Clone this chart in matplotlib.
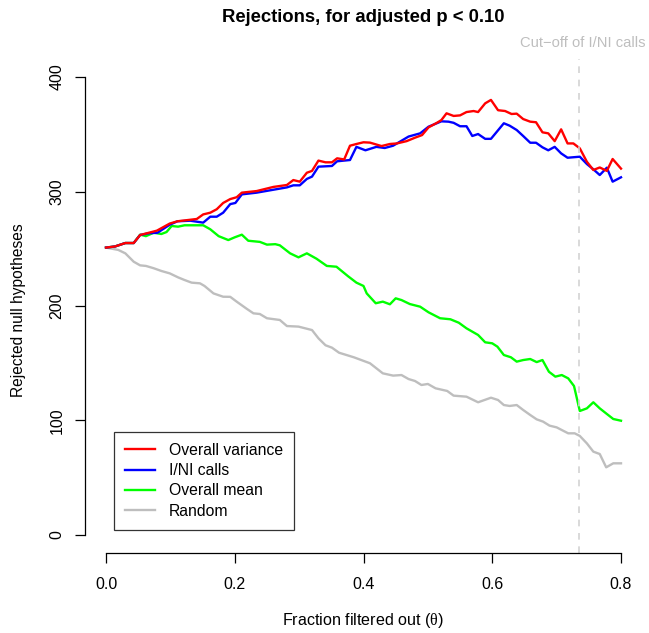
import matplotlib
matplotlib.use("Agg")
import matplotlib.pyplot as plt

plt.rcParams['font.family'] = ['Liberation Sans', 'DejaVu Sans']
plt.rcParams['mathtext.fontset'] = 'custom'
plt.rcParams['mathtext.rm'] = 'Liberation Serif'

title = "Rejections, for adjusted p < 0.10"
xlabel = "Fraction filtered out ($\\mathrm{\\theta}$)"
ylabel = "Rejected null hypotheses"
cutoff = 0.735
cutoff_label = "Cut\u2212off of I/NI calls"
labels = ["Overall variance", "I/NI calls", "Overall mean", "Random"]
colors = ["#FF0000", "#0000FF", "#00FF00", "#BEBEBE"]

var_x = [0, 0.014, 0.03, 0.043, 0.053, 0.079, 0.099, 0.111, 0.141, 0.151, 0.162, 0.172, 0.182, 0.193,
         0.203, 0.211, 0.234, 0.26, 0.281, 0.291, 0.301, 0.312, 0.32, 0.33, 0.341, 0.351, 0.359, 0.37,
         0.379, 0.389, 0.4, 0.41, 0.428, 0.441, 0.452, 0.467, 0.48, 0.491, 0.501, 0.514, 0.521, 0.529,
         0.54, 0.55, 0.56, 0.571, 0.578, 0.589, 0.598, 0.609, 0.62, 0.63, 0.638, 0.648, 0.659, 0.668,
         0.678, 0.687, 0.697, 0.707, 0.717, 0.726, 0.736, 0.747, 0.757, 0.767, 0.778, 0.787, 0.8]
var_y = [251, 252, 255, 255, 262, 265.8, 272, 274, 276, 280, 281.5, 284.5, 290, 293.4,
         295, 299, 300.4, 304, 305.7, 310, 308.6, 316.4, 318, 327, 325.5, 325.5, 329, 328,
         340, 341.5, 343, 342.7, 339.7, 341.5, 342, 344, 347, 349.3, 356, 360, 362.4, 368.3,
         366, 366.5, 369.4, 370.3, 369.4, 377, 380, 371, 370.3, 367.7, 368, 363.3, 361, 360.5,
         351.7, 350.8, 344, 354.3, 342, 342, 337.7, 326, 318.8, 321, 318, 328.4, 320]

ini_x = [0, 0.014, 0.03, 0.043, 0.053, 0.066, 0.08, 0.099, 0.111, 0.131, 0.151, 0.162, 0.172, 0.182,
         0.193, 0.201, 0.211, 0.234, 0.281, 0.291, 0.301, 0.312, 0.32, 0.33, 0.351, 0.359, 0.379,
         0.389, 0.403, 0.42, 0.433, 0.446, 0.47, 0.488, 0.501, 0.521, 0.532, 0.54, 0.55, 0.56, 0.569,
         0.578, 0.589, 0.598, 0.618, 0.627, 0.638, 0.648, 0.659, 0.668, 0.678, 0.687, 0.697, 0.707,
         0.717, 0.736, 0.747, 0.757, 0.767, 0.778, 0.787, 0.8]
ini_y = [251, 252, 255, 255, 262, 263.5, 264, 271, 274, 274.5, 272.8, 278, 278, 281.5,
         289, 290, 297.5, 299, 303.6, 305.4, 305.4, 311, 313, 321.7, 322.3, 326.4, 327.5,
         339, 336, 339, 338, 340, 348, 350.8, 356.6, 361.3, 361, 360, 357, 357, 348.5,
         350.2, 346, 346, 359.6, 357.5, 353.7, 348.5, 342.6, 342.6, 338.6, 336, 339, 333.3,
         329.5, 330.4, 324, 319.4, 314.4, 320.8, 308.6, 312.4]

mean_x = [0, 0.014, 0.03, 0.043, 0.053, 0.062, 0.074, 0.086, 0.094, 0.102, 0.112, 0.122, 0.151, 0.162,
          0.175, 0.19, 0.2, 0.211, 0.221, 0.239, 0.25, 0.263, 0.27, 0.286, 0.299, 0.312, 0.327, 0.343,
          0.358, 0.376, 0.389, 0.4, 0.405, 0.419, 0.43, 0.441, 0.45, 0.459, 0.472, 0.488, 0.501, 0.519,
          0.535, 0.548, 0.56, 0.578, 0.589, 0.6, 0.608, 0.618, 0.629, 0.638, 0.648, 0.659, 0.669, 0.678,
          0.688, 0.698, 0.708, 0.718, 0.727, 0.736, 0.747, 0.757, 0.767, 0.778, 0.788, 0.8]
mean_y = [251, 252, 255, 255, 262.3, 261, 264, 262.9, 264.6, 269.9, 269.3, 270.5, 270.5, 267,
          261, 257.6, 260, 262.3, 257, 256, 253.6, 254, 253, 246, 242.5, 246, 241.3, 235,
          234.3, 226, 220.4, 217.5, 211, 202.4, 203.8, 201.5, 206.7, 205.2, 201.7, 199.4, 194.5, 189.3,
          188.4, 185.4, 180.5, 174.7, 168.3, 167.4, 164.5, 157.2, 155.2, 151.4, 152.8, 153.7, 151, 152.8,
          142.6, 138.3, 139.7, 136.8, 130.1, 108.3, 110.6, 115.9, 110.6, 105.7, 101.3, 99.8]

rand_x = [0, 0.019, 0.03, 0.043, 0.053, 0.062, 0.074, 0.086, 0.099, 0.112, 0.122, 0.133, 0.146, 0.153,
          0.167, 0.182, 0.193, 0.203, 0.219, 0.229, 0.239, 0.25, 0.27, 0.281, 0.299, 0.32, 0.33, 0.341,
          0.351, 0.362, 0.385, 0.41, 0.43, 0.446, 0.459, 0.47, 0.48, 0.49, 0.5, 0.512, 0.53, 0.54, 0.56,
          0.578, 0.598, 0.609, 0.618, 0.627, 0.638, 0.648, 0.659, 0.669, 0.679, 0.689, 0.7, 0.71, 0.718,
          0.728, 0.736, 0.747, 0.757, 0.767, 0.777, 0.788, 0.8]
rand_y = [251, 249, 246, 238.7, 235.5, 235, 233, 230.6, 228.5, 225, 222.7, 220.4, 219.8, 217.5,
          211, 208.1, 208, 203.8, 197.4, 193.6, 193, 189.3, 187.8, 182.5, 182, 179, 171.8, 165.7,
          163.6, 159.2, 155.2, 150, 141.2, 139.2, 139.7, 136.2, 134.5, 131, 131.9, 128.1, 125.8, 121.7, 120.8,
          115.9, 119.9, 117.9, 113.5, 112.7, 113.5, 109.2, 104.8, 101, 99, 95.5, 94, 91.1, 88.8,
          88.8, 86.5, 80, 72.8, 70.7, 59.1, 62.6, 62.6]

xticks = [0.0, 0.2, 0.4, 0.6, 0.8]
yticks = [0, 100, 200, 300, 400]

W, H = 649, 633
fig = plt.figure(figsize=(W / 100, H / 100), dpi=100)
ax = fig.add_axes([85.4 / W, 1 - 553.3 / H, (641.6 - 85.4) / W, (553.3 - 58.7) / H])

series = [(var_x, var_y), (ini_x, ini_y), (mean_x, mean_y), (rand_x, rand_y)]
handles = []
for (xs, ys), c, lab in list(zip(series, colors, labels))[::-1]:
    h, = ax.plot(xs, ys, color=c, lw=1.7, label=lab, solid_joinstyle='round')
    handles.append(h)
handles = handles[::-1]

ax.axvline(cutoff, color="#D3D3D3", lw=1.2, ls=(0, (4, 4)))

ax.set_xlim(-0.032, 0.832)
ax.set_ylim(-16, 416)
ax.set_xticks(xticks)
ax.set_xticklabels([f"{t:.1f}" for t in xticks])
ax.set_yticks(yticks)
ax.set_yticklabels([str(t) for t in yticks], rotation=90, va='center')

for s in ['top', 'right']:
    ax.spines[s].set_visible(False)
ax.spines['left'].set_bounds(0, 400)
ax.spines['bottom'].set_bounds(0, 0.8)
for s in ['left', 'bottom']:
    ax.spines[s].set_linewidth(0.9)
ax.tick_params(direction='out', length=7, width=0.9, labelsize=11.5, pad=8)
ax.tick_params(axis='x', pad=10)

cx = 0.5 * (85.4 + 641.6) / W
fig.text(cx, 1 - 18 / H, title, ha='center', va='center', fontsize=13.3, fontweight='bold')
fig.text(645 / W, 1 - 43 / H, cutoff_label, ha='right', va='center', fontsize=10.6, color="#BEBEBE")
fig.text(cx, 1 - 621 / H, xlabel, ha='center', va='center', fontsize=11.6)
fig.text(19 / W, 1 - 310 / H, ylabel, ha='center', va='center', rotation=90, fontsize=11.2)

leg = fig.legend(handles=handles, labels=labels, loc='upper left',
                 bbox_to_anchor=(114 / W, 1 - 432 / H), fontsize=11.3, frameon=True,
                 fancybox=False, handlelength=1.9, handletextpad=0.9, borderpad=0.7,
                 labelspacing=0.33, borderaxespad=0)
leg.get_frame().set_edgecolor('black')
leg.get_frame().set_linewidth(0.9)

fig.savefig("out.png", dpi=100)
